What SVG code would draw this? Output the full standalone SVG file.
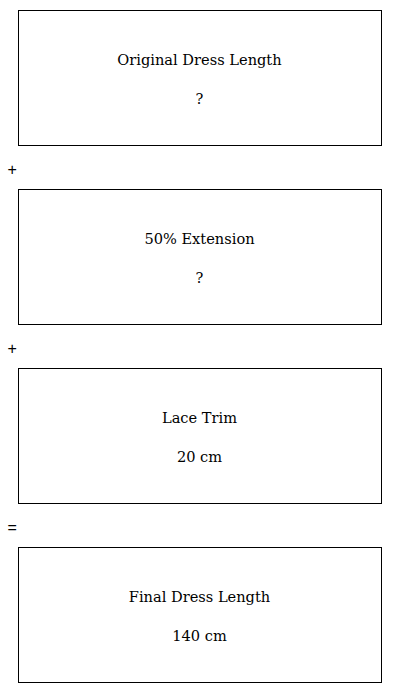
<svg xmlns="http://www.w3.org/2000/svg" width="400" height="693" viewBox="0 0 400 693">
<style>
.box{fill:#fff;stroke:#000;stroke-width:1}
.t{font-family:"DejaVu Serif",serif;font-size:14.6px;fill:#000;text-anchor:middle}
.op{font-family:"Liberation Sans",Arial,sans-serif;font-size:16px;fill:#000}
</style>
<rect width="400" height="693" fill="#fff"/>
<g id="node-original">
<rect class="box" x="18.5" y="10.5" width="363" height="135"/>
<text class="t" x="199.5" y="65">Original Dress Length</text>
<text class="t" x="199.5" y="104">?</text>
</g>
<g id="node-extension">
<rect class="box" x="18.5" y="189.5" width="363" height="135"/>
<text class="t" x="199.5" y="244">50% Extension</text>
<text class="t" x="199.5" y="283">?</text>
</g>
<g id="node-lace">
<rect class="box" x="18.5" y="368.5" width="363" height="135"/>
<text class="t" x="199.5" y="423">Lace Trim</text>
<text class="t" x="199.5" y="462">20 cm</text>
</g>
<g id="node-final">
<rect class="box" x="18.5" y="547.5" width="363" height="135"/>
<text class="t" x="199.5" y="602">Final Dress Length</text>
<text class="t" x="199.5" y="641">140 cm</text>
</g>
<g id="connectors">
<text class="op" x="7.5" y="175">+</text>
<text class="op" x="7.5" y="354">+</text>
<text class="op" x="7.5" y="533">=</text>
</g>
</svg>
